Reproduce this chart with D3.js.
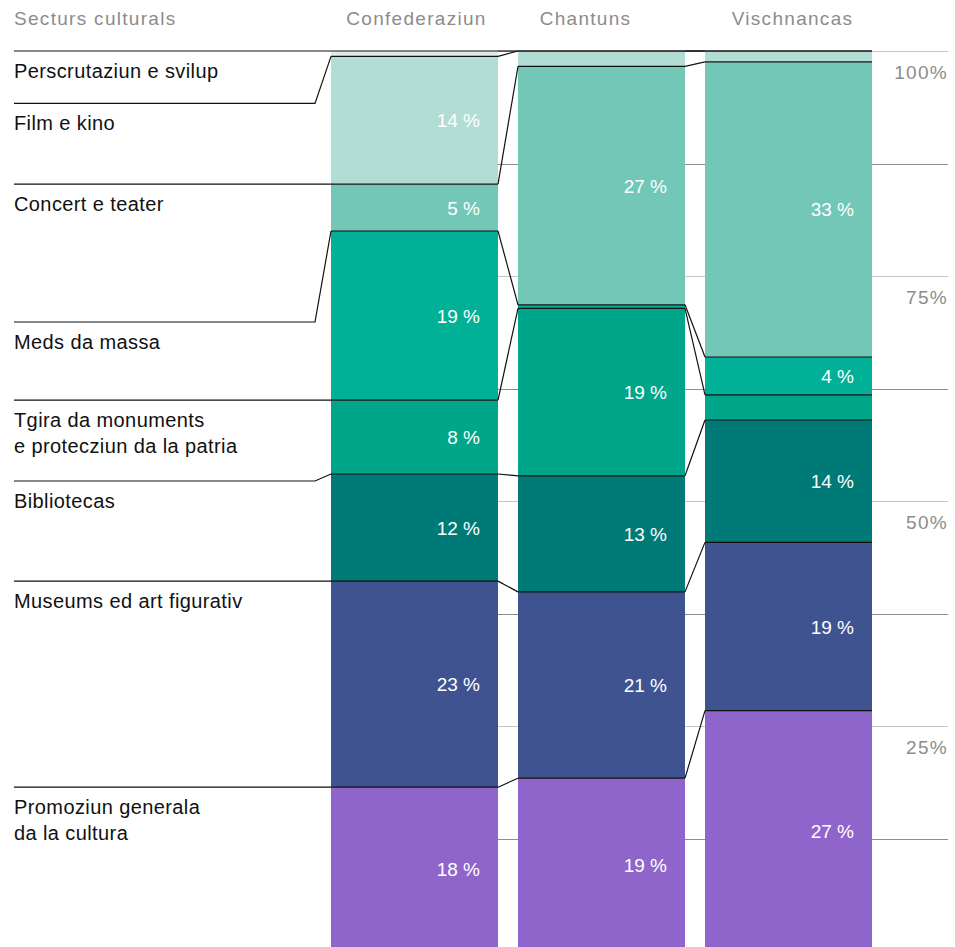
<!DOCTYPE html>
<html>
<head>
<meta charset="utf-8">
<script src="https://cdn.jsdelivr.net/npm/d3@7"></script>
<style>
    body { margin: 0; background: #fff; }
    text { font-family: "Liberation Sans", Arial, sans-serif; }
</style>
</head>
<body>
<div id="main"></div>
<script>
// sectors, bottom to top
var sectors = [
    "Promoziun generala|da la cultura",
    "Museums ed art figurativ",
    "Bibliotecas",
    "Tgira da monuments|e protecziun da la patria",
    "Meds da massa",
    "Concert e teater",
    "Film e kino",
    "Perscrutaziun e svilup",
];
var colors = ["#9065cb", "#3f5391", "#007a76", "#00a689", "#00b197", "#72c7b7", "#b1ddd4", "#dcefea"];

var levels = ["Confederaziun", "Chantuns", "Vischnancas"];

// shares in %, same order as sectors
var confederaziun = [18.2, 22.9, 11.9, 8.2, 18.8, 5.2, 14.2, 0.6];
var chantuns = [19.2, 20.7, 12.9, 18.6, 0.4, 26.5, 1.7, 0];
var vischnancas = [26.7, 18.7, 13.6, 2.8, 4.2, 32.8, 1.2, 0];

var yTicks = [25, 50, 75, 100];
var headerLeft = "Secturs culturals";

var cfg = {
    width: 955,
    height: 947,
    barLeft: 331,
    barRight: 872,
    top: 51,
    bottom: 951,
    labelX: 14,
    labelBend: 315,
    minShow: 3.5,
};

// label separator nudges (px) for readability, keyed by sector index
var labelNudge = { 6: 47, 4: 91, 2: 7 };
var headerNudge = { Confederaziun: 2, Chantuns: -16, Vischnancas: 4 };

var seriesByLevel = [confederaziun, chantuns, vischnancas];

var svg = d3
    .select("#main")
    .append("svg")
    .attr("width", cfg.width)
    .attr("height", cfg.height);

var x = d3
    .scaleBand()
    .domain(levels)
    .range([cfg.barLeft, cfg.barRight])
    .paddingInner(20 / 187)
    .paddingOuter(0);

var y = d3.scaleLinear().domain([0, 100]).range([cfg.bottom, cfg.top]);

// stacked data
var stacked = levels.map(function (lv, i) {
    var acc = 0;
    return seriesByLevel[i].map(function (v, k) {
        var s = { level: lv, k: k, v: v, y0: acc, y1: acc + v };
        acc += v;
        return s;
    });
});

// grid
var grid = svg.append("g");
d3.range(0, 101, 12.5).forEach(function (t) {
    var major = t % 25 === 0;
    grid.append("line")
        .attr("x1", cfg.barLeft)
        .attr("x2", 948)
        .attr("y1", Math.round(y(t)) + 0.5)
        .attr("y2", Math.round(y(t)) + 0.5)
        .attr("stroke", major ? "#c4c4c4" : "#8e8e8e")
        .attr("stroke-width", 1);
});

svg.append("g")
    .selectAll("text")
    .data(yTicks)
    .enter()
    .append("text")
    .attr("x", 948)
    .attr("y", function (d) { return y(d) + 28; })
    .attr("text-anchor", "end")
    .attr("font-size", 19)
    .attr("letter-spacing", 1.3)
    .attr("fill", "#8c8c8c")
    .text(function (d) { return d + "%"; });

// bars
var bars = svg.append("g");
stacked.forEach(function (col) {
    bars.selectAll(null)
        .data(col)
        .enter()
        .append("rect")
        .attr("x", function (d) { return x(d.level); })
        .attr("width", x.bandwidth())
        .attr("y", function (d) { return y(d.y1); })
        .attr("height", function (d) { return y(d.y0) - y(d.y1); })
        .attr("fill", function (d) { return colors[d.k]; });
});

// boundary lines and connectors
var lines = svg.append("g").attr("stroke", "#111").attr("fill", "none").attr("stroke-width", 1.2);
stacked.forEach(function (col, i) {
    col.forEach(function (d) {
        lines.append("line")
            .attr("x1", x(d.level))
            .attr("x2", x(d.level) + x.bandwidth())
            .attr("y1", y(d.y1))
            .attr("y2", y(d.y1));
        if (i < stacked.length - 1) {
            var nx = stacked[i + 1][d.k];
            lines.append("line")
                .attr("x1", x(d.level) + x.bandwidth())
                .attr("x2", x(nx.level))
                .attr("y1", y(d.y1))
                .attr("y2", y(nx.y1));
        }
    });
});

// value labels
stacked.forEach(function (col) {
    svg.append("g")
        .selectAll("text")
        .data(col.filter(function (d) { return d.v >= cfg.minShow; }))
        .enter()
        .append("text")
        .attr("x", function (d) { return x(d.level) + x.bandwidth() - 18; })
        .attr("y", function (d) { return (y(d.y0) + y(d.y1)) / 2 + 7; })
        .attr("text-anchor", "end")
        .attr("font-size", 19)
        .attr("fill", "#fff")
        .text(function (d) { return Math.round(d.v) + " %"; });
});

// sector labels on the left, joined to the first bar
var conf = stacked[0];
sectors.forEach(function (name, k) {
    var by = y(conf[k].y1);
    var ly = by + (labelNudge[k] || 0);
    lines.append("path")
        .attr("d", d3.line()([[cfg.labelX, ly], [cfg.labelBend, ly], [cfg.barLeft, by]]));
    var t = svg.append("text")
        .attr("x", cfg.labelX)
        .attr("y", ly + 27)
        .attr("font-size", 20)
        .attr("letter-spacing", 0.4)
        .attr("fill", "#111");
    name.split("|").forEach(function (part, j) {
        t.append("tspan")
            .attr("x", cfg.labelX)
            .attr("dy", j === 0 ? 0 : 26)
            .text(part);
    });
});

// headers
svg.append("text")
    .attr("x", cfg.labelX)
    .attr("y", 25)
    .attr("font-size", 19)
    .attr("letter-spacing", 1.3)
    .attr("fill", "#8c8c8c")
    .text(headerLeft);

svg.append("g")
    .selectAll("text")
    .data(levels)
    .enter()
    .append("text")
    .attr("x", function (d) { return x(d) + x.bandwidth() / 2 + (headerNudge[d] || 0); })
    .attr("y", 25)
    .attr("text-anchor", "middle")
    .attr("font-size", 19)
    .attr("letter-spacing", 1.3)
    .attr("fill", "#8c8c8c")
    .text(function (d) { return d; });
</script>
</body>
</html>
